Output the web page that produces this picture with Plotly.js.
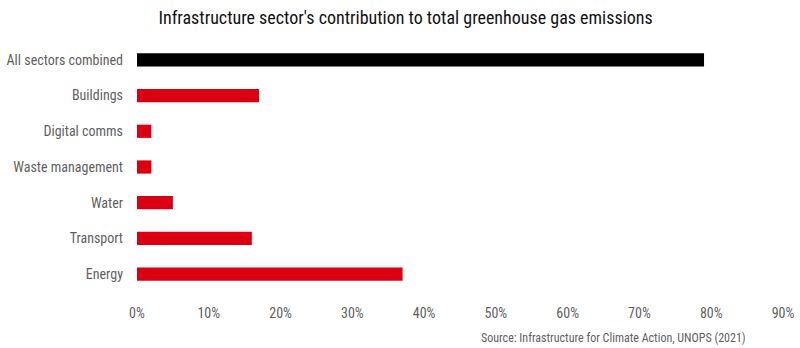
<!DOCTYPE html>
<html>
<head>
<meta charset="utf-8">
<script src="https://cdn.plot.ly/plotly-3.0.1.min.js"></script>
<style>html,body{margin:0;padding:0;background:#fff;}#chart{width:800px;height:348px;}</style>
</head>
<body>
<div id="chart"></div>
<script>
const categories = ["All sectors combined", "Buildings", "Digital comms", "Waste management", "Water", "Transport", "Energy"];
const values = [0.79, 0.17, 0.02, 0.02, 0.05, 0.16, 0.37];
const barColors = ["#000000", "#DB0011", "#DB0011", "#DB0011", "#DB0011", "#DB0011", "#DB0011"];
const tickVals = [0, 0.1, 0.2, 0.3, 0.4, 0.5, 0.6, 0.7, 0.8, 0.9];
const tickText = ["0%", "10%", "20%", "30%", "40%", "50%", "60%", "70%", "80%", "90%"];
const titleText = "Infrastructure sector's contribution to total greenhouse gas emissions";
const sourceText = "Source: Infrastructure for Climate Action, UNOPS (2021)";

const font = "'Liberation Sans Narrow', 'Roboto Condensed', Roboto, sans-serif";

Plotly.newPlot("chart", [{
  type: "bar",
  orientation: "h",
  y: categories,
  x: values,
  marker: {color: barColors},
  hoverinfo: "none"
}], {
  width: 800, height: 348,
  margin: {l: 137, r: 17, t: 42, b: 56},
  paper_bgcolor: "#fff", plot_bgcolor: "#fff",
  bargap: 0.63,
  showlegend: false,
  font: {family: font, color: "#5f5f5f", size: 14},
  title: {text: titleText, x: 0.507, xanchor: "center", y: 0.95, yanchor: "middle",
          font: {family: font, size: 18, color: "#111"}},
  xaxis: {range: [0, 0.9], tickvals: tickVals, ticktext: tickText, showgrid: false,
          zeroline: false, showline: false, ticks: "", ticklabelstandoff: 11,
          tickfont: {family: font, size: 14, color: "#5f5f5f"}, fixedrange: true},
  yaxis: {autorange: "reversed", showgrid: false, zeroline: false, showline: false,
          ticks: "", ticklabelstandoff: 13, tickfont: {family: font, size: 14, color: "#5f5f5f"}, fixedrange: true},
  annotations: [{text: sourceText, xref: "paper", yref: "paper", x: 1, y: -0.17, xanchor: "right", yanchor: "middle",
                 xshift: -35, yshift: -3, showarrow: false, font: {family: font, size: 12, color: "#5f5f5f"}}]
}, {displayModeBar: false, staticPlot: true});
</script>
</body>
</html>
